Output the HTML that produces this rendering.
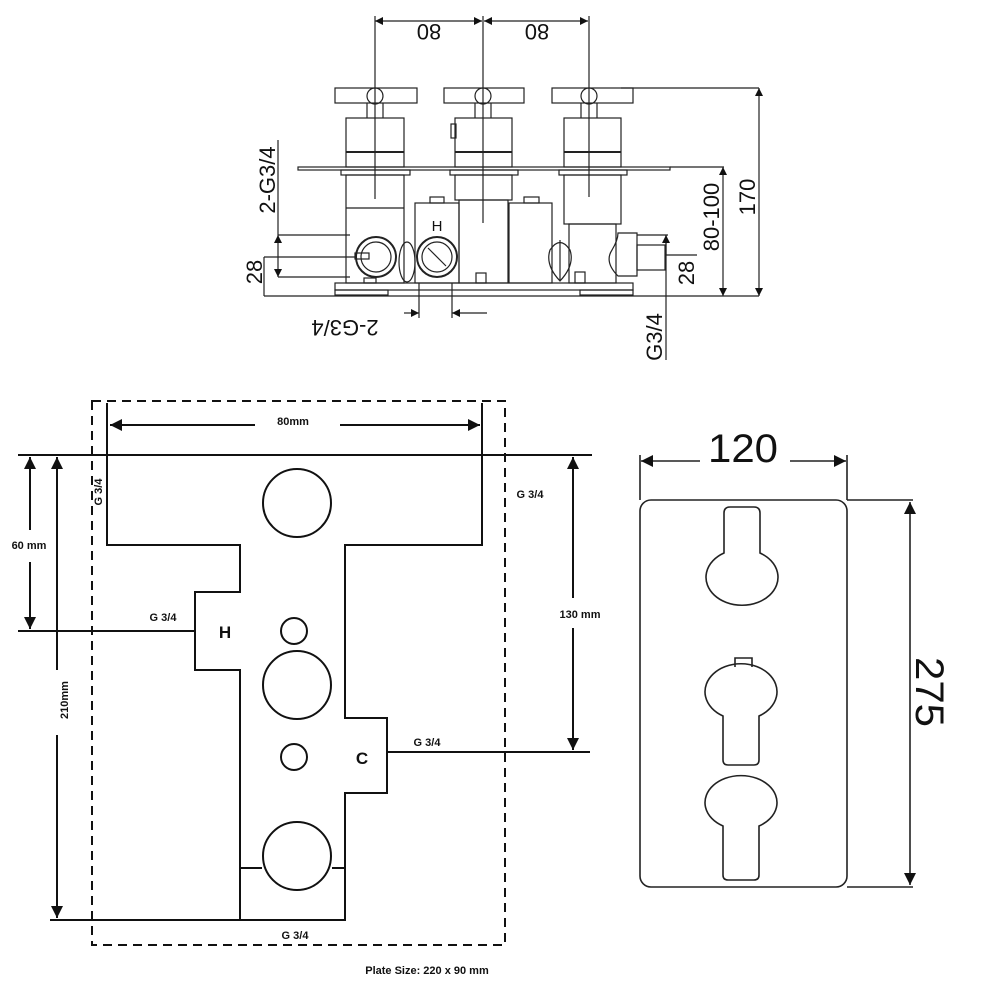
<!DOCTYPE html>
<html><head><meta charset="utf-8"><style>
html,body{margin:0;padding:0;background:#fff}
svg{display:block}
text{font-family:"Liberation Sans",sans-serif;fill:#111}
</style></head><body>
<svg width="1000" height="1000" viewBox="0 0 1000 1000" xmlns="http://www.w3.org/2000/svg">
<defs>
<marker id="a" viewBox="0 0 10 10" refX="10" refY="5" markerWidth="10" markerHeight="8" orient="auto-start-reverse" markerUnits="userSpaceOnUse"><path d="M0,0 L10,5 L0,10 z" fill="#111"/></marker>
<marker id="b" viewBox="0 0 10 10" refX="10" refY="5" markerWidth="24" markerHeight="12" orient="auto-start-reverse" markerUnits="userSpaceOnUse"><path d="M0,0 L10,5 L0,10 z" fill="#111"/></marker>
</defs>
<!-- ===== TOP VIEW ===== -->
<g stroke="#222" stroke-width="1.2" fill="none">
<line x1="375" y1="21" x2="482" y2="21" marker-start="url(#a)" marker-end="url(#a)"/>
<line x1="484" y1="21" x2="588" y2="21" marker-start="url(#a)" marker-end="url(#a)"/>
<line x1="375" y1="16" x2="375" y2="199"/>
<line x1="483" y1="16" x2="483" y2="223"/>
<line x1="589" y1="16" x2="589" y2="197"/>
<!-- crossbars -->
<rect x="335" y="88" width="82" height="15"/><rect x="444" y="88" width="80" height="15"/><rect x="552" y="88" width="81" height="15"/>
<circle cx="375" cy="96" r="8"/><circle cx="483" cy="96" r="8"/><circle cx="589" cy="96" r="8"/>
<line x1="367" y1="103" x2="367" y2="118"/><line x1="383" y1="103" x2="383" y2="118"/>
<line x1="475" y1="103" x2="475" y2="118"/><line x1="491" y1="103" x2="491" y2="118"/>
<line x1="581" y1="103" x2="581" y2="118"/><line x1="597" y1="103" x2="597" y2="118"/>
<!-- bodies -->
<rect x="346" y="118" width="58" height="49"/><line x1="346" y1="152" x2="404" y2="152" stroke-width="2"/>
<rect x="455" y="118" width="57" height="49"/><line x1="455" y1="152" x2="512" y2="152" stroke-width="2"/>
<rect x="564" y="118" width="57" height="49"/><line x1="564" y1="152" x2="621" y2="152" stroke-width="2"/>
<rect x="451" y="124" width="5" height="14"/>
<rect x="298" y="167" width="372" height="3"/>
<line x1="670" y1="167" x2="724" y2="167"/>
<rect x="341" y="170" width="69" height="5"/><rect x="450" y="170" width="68" height="5"/><rect x="559" y="170" width="68" height="5"/>
<!-- lower bodies -->
<rect x="346" y="175" width="58" height="108"/><line x1="346" y1="208" x2="404" y2="208"/>
<rect x="455" y="175" width="57" height="25"/><rect x="459" y="200" width="49" height="83"/>
<rect x="415" y="203" width="44" height="80"/><rect x="430" y="197" width="14" height="6"/>
<rect x="509" y="203" width="43" height="80"/><rect x="524" y="197" width="15" height="6"/>
<rect x="564" y="175" width="57" height="49"/><rect x="569" y="224" width="47" height="59"/>
<path d="M618,233 L637,233 L637,276 L618,276 Q604,262 612,250 Q618,240 618,233 Z"/>
<rect x="637" y="245" width="28" height="25"/>
<circle cx="376" cy="257" r="20" stroke-width="2"/><circle cx="376" cy="257" r="15"/>
<circle cx="437" cy="257" r="20" stroke-width="2"/><circle cx="437" cy="257" r="15"/>
<line x1="428" y1="248" x2="446" y2="266"/>
<rect x="355" y="253" width="14" height="6"/>
<ellipse cx="407" cy="262" rx="8" ry="20"/>
<path d="M550,250 Q560,235 570,250 Q575,265 560,281 Q545,265 550,250 Z"/><line x1="560" y1="240" x2="560" y2="281"/>
<rect x="476" y="273" width="10" height="10"/><rect x="575" y="272" width="10" height="11"/><rect x="364" y="278" width="12" height="5"/>
<rect x="335" y="283" width="298" height="7"/>
<rect x="335" y="290" width="53" height="5"/><rect x="580" y="290" width="53" height="5"/>
<line x1="264" y1="296" x2="759" y2="296"/>
<!-- left dims -->
<line x1="278" y1="140" x2="278" y2="235"/>
<line x1="278" y1="235" x2="350" y2="235"/><line x1="264" y1="257" x2="355" y2="257"/><line x1="278" y1="277" x2="350" y2="277"/>
<line x1="278" y1="235" x2="278" y2="257" marker-start="url(#a)"/>
<line x1="278" y1="257" x2="278" y2="277" marker-end="url(#a)"/>
<line x1="264" y1="257" x2="264" y2="296"/>
<!-- bottom dims -->
<line x1="419" y1="283" x2="419" y2="318"/><line x1="452" y1="283" x2="452" y2="318"/>
<line x1="404" y1="313" x2="419" y2="313" marker-end="url(#a)"/><line x1="487" y1="313" x2="452" y2="313" marker-end="url(#a)"/>
<!-- right dims -->
<line x1="637" y1="235" x2="668" y2="235"/><line x1="665" y1="255" x2="697" y2="255"/>
<line x1="666" y1="235" x2="666" y2="360"/>
<line x1="666" y1="235" x2="666" y2="255" marker-start="url(#a)"/>
<line x1="723" y1="167" x2="723" y2="296" marker-start="url(#a)" marker-end="url(#a)"/>
<line x1="621" y1="88" x2="759" y2="88"/>
<line x1="759" y1="88" x2="759" y2="296" marker-start="url(#a)" marker-end="url(#a)"/>
</g>
<g font-size="22">
<text transform="translate(429,24) rotate(180)" text-anchor="middle">80</text>
<text transform="translate(537,24) rotate(180)" text-anchor="middle">80</text>
<text transform="translate(275,180) rotate(-90)" text-anchor="middle">2-G3/4</text>
<text transform="translate(262,272) rotate(-90)" text-anchor="middle">28</text>
<text transform="translate(345,320) rotate(180)" text-anchor="middle">2-G3/4</text>
<text transform="translate(662,337) rotate(-90)" text-anchor="middle">G3/4</text>
<text transform="translate(694,273) rotate(-90)" text-anchor="middle">28</text>
<text transform="translate(719,217) rotate(-90)" text-anchor="middle">80-100</text>
<text transform="translate(755,197) rotate(-90)" text-anchor="middle">170</text>
<text x="437" y="231" font-size="15" text-anchor="middle">H</text>
</g>
<!-- ===== PLAN VIEW ===== -->
<g stroke="#111" stroke-width="2" fill="none">
<rect x="92" y="401" width="413" height="544" stroke-dasharray="9,6"/>
<line x1="107" y1="403" x2="107" y2="455"/><line x1="482" y1="403" x2="482" y2="455"/>
<line x1="255" y1="425" x2="110" y2="425" marker-end="url(#b)"/>
<line x1="340" y1="425" x2="480" y2="425" marker-end="url(#b)"/>
<line x1="18" y1="455" x2="592" y2="455"/>
<path d="M107,455 L482,455 L482,545 L345,545 L345,718 L387,718 L387,793 L345,793 L345,920 L240,920 L240,670 L195,670 L195,592 L240,592 L240,545 L107,545 Z"/>
<line x1="50" y1="920" x2="240" y2="920"/>
<line x1="240" y1="868" x2="262" y2="868"/><line x1="332" y1="868" x2="345" y2="868"/>
<circle cx="297" cy="503" r="34"/><circle cx="297" cy="685" r="34"/><circle cx="297" cy="856" r="34"/>
<circle cx="294" cy="631" r="13"/><circle cx="294" cy="757" r="13"/>
<line x1="18" y1="631" x2="195" y2="631"/>
<line x1="387" y1="752" x2="590" y2="752"/>
<line x1="30" y1="530" x2="30" y2="457" marker-end="url(#b)"/>
<line x1="30" y1="562" x2="30" y2="629" marker-end="url(#b)"/>
<line x1="57" y1="670" x2="57" y2="457" marker-end="url(#b)"/>
<line x1="57" y1="735" x2="57" y2="918" marker-end="url(#b)"/>
<line x1="573" y1="598" x2="573" y2="457" marker-end="url(#b)"/>
<line x1="573" y1="628" x2="573" y2="750" marker-end="url(#b)"/>
</g>
<g font-size="11" font-weight="bold">
<text x="293" y="425" text-anchor="middle">80mm</text>
<text x="29" y="549" text-anchor="middle">60 mm</text>
<text transform="translate(68,700) rotate(-90)" text-anchor="middle">210mm</text>
<text x="580" y="618" text-anchor="middle">130 mm</text>
<text transform="translate(102,492) rotate(-90)" text-anchor="middle">G 3/4</text>
<text x="163" y="621" text-anchor="middle">G 3/4</text>
<text x="530" y="498" text-anchor="middle">G 3/4</text>
<text x="427" y="746" text-anchor="middle">G 3/4</text>
<text x="295" y="939" text-anchor="middle">G 3/4</text>
<text x="427" y="974" text-anchor="middle">Plate Size: 220 x 90 mm</text>
<text x="225" y="638" text-anchor="middle" font-size="17">H</text>
<text x="362" y="764" text-anchor="middle" font-size="17">C</text>
</g>
<!-- ===== FRONT PLATE ===== -->
<g stroke="#222" stroke-width="1.6" fill="none">
<rect x="640" y="500" width="207" height="387" rx="11"/>
<line x1="640" y1="455" x2="640" y2="500"/><line x1="847" y1="455" x2="847" y2="500"/>
<line x1="700" y1="461" x2="641" y2="461" marker-end="url(#b)"/>
<line x1="790" y1="461" x2="846" y2="461" marker-end="url(#b)"/>
<line x1="847" y1="500" x2="913" y2="500"/><line x1="847" y1="887" x2="913" y2="887"/>
<line x1="910" y1="502" x2="910" y2="885" marker-start="url(#b)" marker-end="url(#b)"/>
<path d="M724,553 L724,513 Q724,507 730,507 L754,507 Q760,507 760,513 L760,553 A36,28 0 1 1 724,553 Z"/>
<path d="M723,716 L723,760 Q723,765 728,765 L754,765 Q759,765 759,760 L759,716 A36,28 0 1 0 723,716 Z"/>
<path d="M735,667 L735,658 L752,658 L752,667"/>
<path d="M723,826 L723,875 Q723,880 728,880 L754,880 Q759,880 759,875 L759,826 A36,27 0 1 0 723,826 Z"/>
</g>
<text x="743" y="462" font-size="40" text-anchor="middle" textLength="70" lengthAdjust="spacingAndGlyphs">120</text>
<text transform="translate(916,692) rotate(90)" font-size="40" text-anchor="middle" textLength="70" lengthAdjust="spacingAndGlyphs">275</text>
</svg>
</body></html>
